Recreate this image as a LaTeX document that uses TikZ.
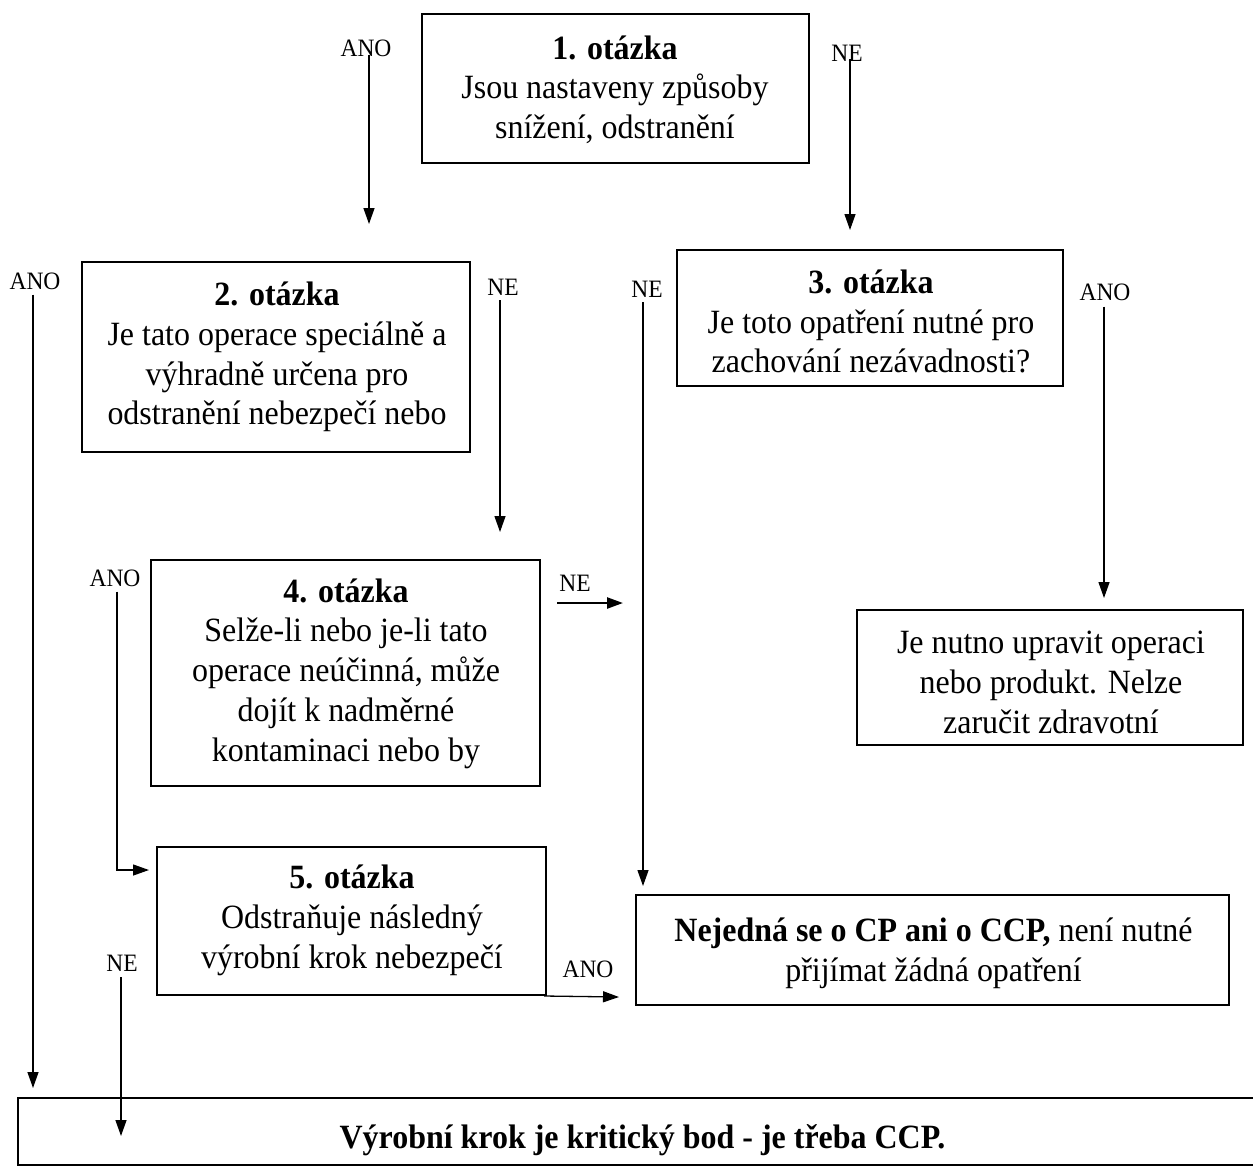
\documentclass[tikz,border=0pt]{standalone}
\usepackage{fontspec}
\setmainfont[FakeStretch=0.94]{Liberation Serif}
\usetikzlibrary{arrows.meta}
\begin{document}
\begin{tikzpicture}[x=1pt,y=-1pt,
  box/.style={draw, line width=1.8pt, inner sep=0pt},
  txt/.style={align=center, inner sep=0pt, font=\fontsize{34}{39.7}\selectfont},
  lbl/.style={font=\fontsize{25}{26}\selectfont, inner sep=0pt},
  conn/.style={line width=1.3pt, -{Triangle[length=16pt,width=11pt]}},
]
\useasboundingbox[fill=white] (0,0) rectangle (1253,1168);
% boxes
\node[box, minimum width=387pt, minimum height=149pt] (q1) at (615.5,88.5) {};
\node[box, minimum width=388pt, minimum height=190pt] (q2) at (276,357) {};
\node[box, minimum width=386pt, minimum height=136pt] (q3) at (870,318) {};
\node[box, minimum width=389pt, minimum height=226pt] (q4) at (345.5,673) {};
\node[box, minimum width=386pt, minimum height=135pt] (r1) at (1050,677.5) {};
\node[box, minimum width=389pt, minimum height=148pt] (q5) at (351.5,921) {};
\node[box, minimum width=593pt, minimum height=110pt] (r2) at (932.5,950) {};
\node[box, minimum width=1250pt, minimum height=67pt] (r3) at (643,1131.5) {};
% texts
\node[txt] (t1) at (615,89.5) {\textbf{1. otázka}\\Jsou nastaveny způsoby\\snížení, odstranění};
\node[txt] (t2) at (277,357) {\textbf{2. otázka}\\Je tato operace speciálně a\\výhradně určena pro\\odstranění nebezpečí nebo};
\node[txt] (t3) at (871,321.5) {\textbf{3. otázka}\\Je toto opatření nutné pro\\zachování nezávadnosti?};
\node[txt] (t4) at (346,673.5) {\textbf{4. otázka}\\Selže-li nebo je-li tato\\operace neúčinná, může\\dojít k nadměrné\\kontaminaci nebo by};
\node[txt] (tr1) at (1051,682.5) {Je nutno upravit operaci\\nebo produkt. Nelze\\zaručit zdravotní};
\node[txt] (t5) at (352,920.5) {\textbf{5. otázka}\\Odstraňuje následný\\výrobní krok nebezpečí};
\node[txt] (tr2) at (933.5,953) {\textbf{Nejedná se o CP ani o CCP,} není nutné\\přijímat žádná opatření};
\node[txt] (tr3) at (642.5,1140) {\textbf{Výrobní krok je kritický bod - je třeba CCP.}};
% labels
\node[lbl] (la1) at (366,48) {ANO};
\node[lbl] (ln1) at (847,53) {NE};
\node[lbl] (la2) at (35,281) {ANO};
\node[lbl] (ln2) at (503,287) {NE};
\node[lbl] (ln3) at (647,289) {NE};
\node[lbl] (la3) at (1105,292) {ANO};
\node[lbl] (la4) at (115,578) {ANO};
\node[lbl] (ln4) at (575,583) {NE};
\node[lbl] (ln5) at (122,963) {NE};
\node[lbl] (la5) at (588,969) {ANO};
% connector end points
\coordinate (e1) at (369,224);
\coordinate (e2) at (850,230);
\coordinate (e3) at (33,1088);
\coordinate (e4) at (500,532);
\coordinate (e5) at (643,886);
\coordinate (e6) at (1104,598);
\coordinate (c7) at (117,870);
\coordinate (e7) at (149,870);
\coordinate (s8) at (557,603);
\coordinate (e8) at (623,603);
\coordinate (e9) at (121,1136);
\coordinate (s10) at (544,996);
\coordinate (e10) at (619,997);
% connectors
\draw[conn] (la1.south -| e1) ++(0,-2) -- (e1);
\draw[conn] (ln1.south -| e2) ++(0,-2) -- (e2);
\draw[conn] ([yshift=-5pt]la2.south -| e3) -- (e3);
\draw[conn] ([yshift=-5pt]ln2.south -| e4) -- (e4);
\draw[conn] ([yshift=-5pt]ln3.south -| e5) -- (e5);
\draw[conn] ([yshift=-6pt]la3.south -| e6) -- (e6);
\draw[conn] ([yshift=-5pt]la4.south -| c7) -- (c7) -- (e7);
\draw[conn, line width=2.4pt] (s8) -- (e8);
\draw[conn] ([yshift=-6pt]ln5.south -| e9) -- (e9);
\draw[conn] (s10) -- (e10);
\end{tikzpicture}
\end{document}
